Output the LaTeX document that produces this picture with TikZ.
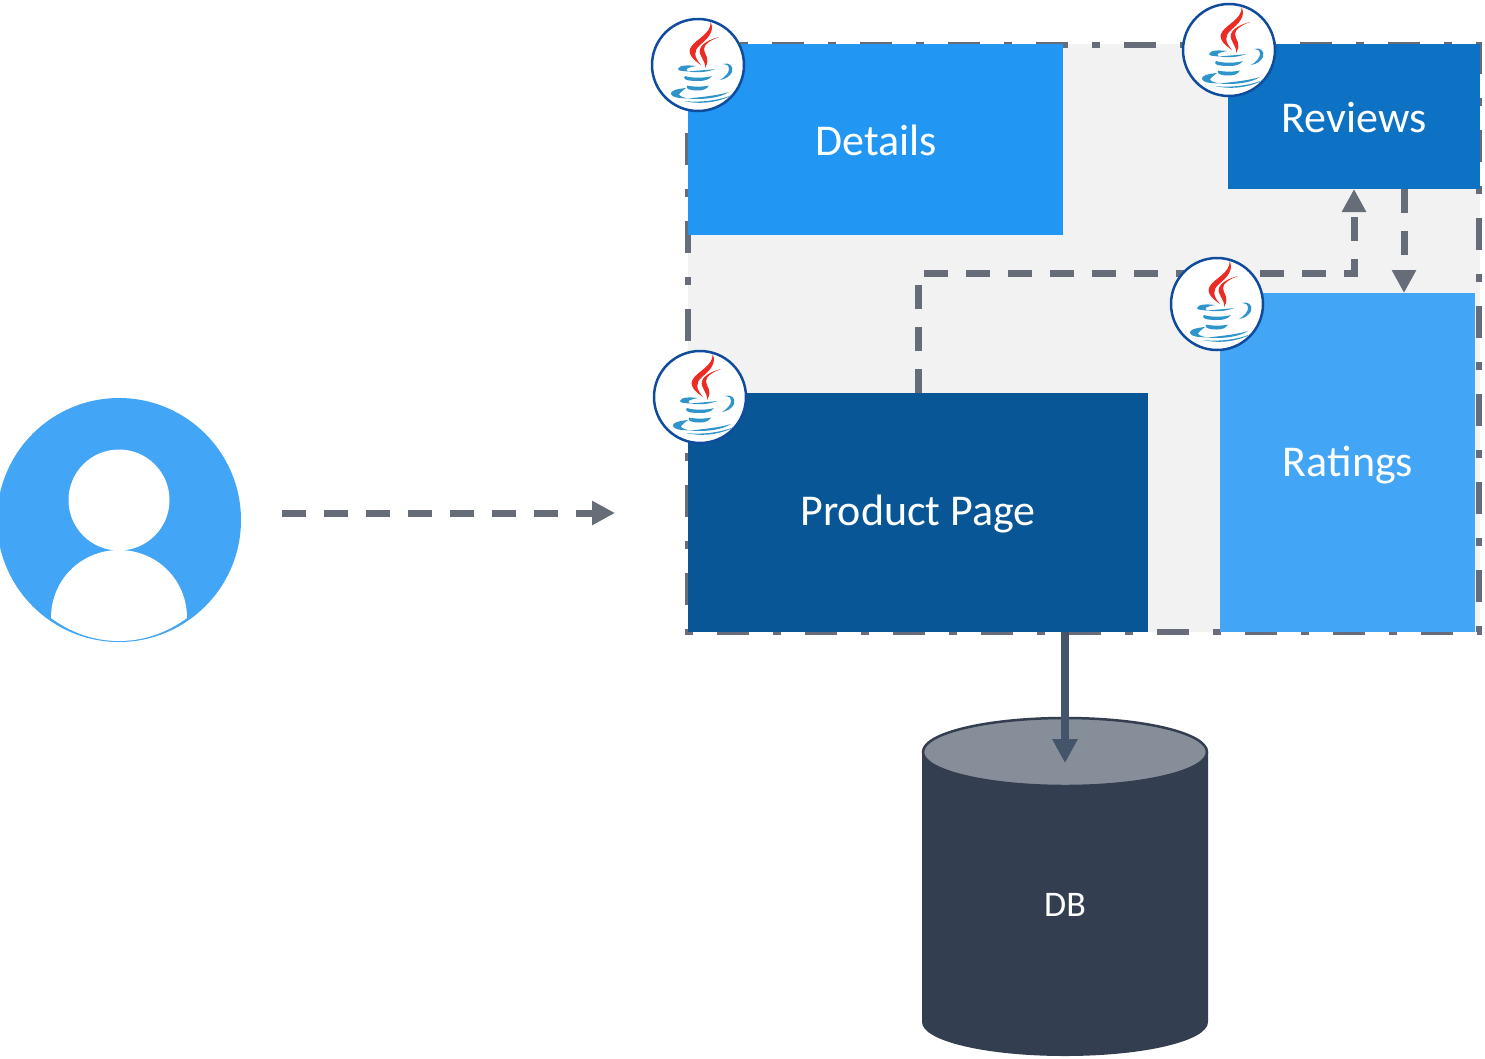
\documentclass[tikz,border=0pt]{standalone}
\usepackage{fontspec}
\setmainfont{Carlito}
\usetikzlibrary{arrows.meta,shapes.geometric}
\definecolor{linegray}{HTML}{666D78}
\definecolor{dbarrow}{HTML}{44546A}
\definecolor{dbbody}{HTML}{333F50}
\definecolor{dbtop}{HTML}{868E99}
\definecolor{panel}{HTML}{F2F2F2}
\definecolor{cDetails}{HTML}{2196F3}
\definecolor{cReviews}{HTML}{0D72C4}
\definecolor{cRatings}{HTML}{42A5F5}
\definecolor{cProduct}{HTML}{085695}
\definecolor{javared}{HTML}{ED2B24}
\definecolor{javablue}{HTML}{2E94C9}
\definecolor{javaring}{HTML}{0F4C9E}
\tikzset{
  svcbox/.style={rectangle,inner sep=0pt,outer sep=0pt,text=white,font=\fontsize{44}{48}\selectfont},
  javacirc/.style={circle,draw=javaring,line width=2.5pt,fill=white,minimum size=92pt,inner sep=0pt,outer sep=0pt},
  flowline/.style={draw=linegray,line width=7pt,dash pattern=on 24pt off 18pt,
    -{Triangle[length=23pt,width=23pt,fill=linegray]}},
  pics/javalogo/.style={code={
    \fill[javared] (12.7,-43) .. controls (17,-33) and (9,-26) .. (2,-20) .. controls (-5,-14) and (-4,-8) .. (3,0)
       .. controls (-6,-6) and (-11,-12) .. (-7,-18) .. controls (-2,-26) and (13,-31) .. (12.7,-43) -- cycle;
    \fill[javared] (21,-28) .. controls (13,-25) and (6,-21) .. (6,-16) .. controls (6,-10) and (13,-7) .. (7,3)
       .. controls (8,-5) and (0,-9) .. (2,-16) .. controls (4,-22) and (13,-26) .. (21,-28) -- cycle;
    \fill[javablue] (-2,1) .. controls (-10,0) and (-19,0) .. (-20,4) .. controls (-20,6) and (-15,6) .. (-10,6.5)
       .. controls (-14,4) and (-10,2.5) .. (-2,1) -- cycle;
    \fill[javablue] (-10,6.5) .. controls (0,8) and (10,7) .. (17,4) .. controls (10,5) and (0,5.5) .. (-10,6.5) -- cycle;
    \fill[javablue] (25,-1) .. controls (31,-3) and (36,1) .. (34,7) .. controls (32,11) and (28,14) .. (22,15)
       .. controls (27,12) and (31,8) .. (31,4) .. controls (31,0) and (28,-1) .. (25,-1) -- cycle;
    \fill[javablue] (-13,11) .. controls (-16,14) and (-12,16) .. (0,16) .. controls (6,16) and (11,15) .. (14,11)
       .. controls (8,13) and (-6,13.5) .. (-13,11) -- cycle;
    \fill[javablue] (-11,20.5) .. controls (-13,24) and (-8,25.5) .. (0,25.5) .. controls (5,25.5) and (9,24) .. (11,20.5)
       .. controls (5,22) and (-5,22) .. (-11,20.5) -- cycle;
    \fill[javablue] (-12,23) .. controls (-22,24) and (-28,26) .. (-27,29) .. controls (-26,33) and (-18,33) .. (-10,33.5)
       .. controls (-17,32) and (-21,30) .. (-18,28) .. controls (-16,26) and (-14,24.5) .. (-12,23) -- cycle;
    \fill[javablue] (-10,33.5) .. controls (5,35) and (22,33) .. (31,27) .. controls (22,30) and (5,32) .. (-10,33.5) -- cycle;
    \fill[javablue] (-14,36) .. controls (3,40) and (22,37) .. (34,30) .. controls (22,35) and (3,38) .. (-14,36) -- cycle;
  }}
}
\begin{document}
\begin{tikzpicture}[x=1pt,y=-1pt]
\useasboundingbox (0,0) rectangle (1485,1058);
% user
\begin{scope}
  \clip (0,0) rectangle (1485,1058);
  \node[circle,fill=cRatings,minimum size=244pt,inner sep=0pt,outer sep=0pt] (user) at (119,520) {};
  \fill[white] (51,618) .. controls (51,579) and (82,550) .. (119,550) .. controls (156,550) and (187,579) .. (187,618)
     .. controls (165,634) and (142,641) .. (119,641) .. controls (96,641) and (73,634) .. (51,618) -- cycle;
  \node[circle,fill=white,minimum size=101pt,inner sep=0pt,outer sep=0pt] (userhead) at (119,500) {};
\end{scope}
% panel
\node[rectangle,fill=panel,inner sep=0pt,outer sep=0pt,minimum width=792pt,minimum height=588pt] (panel) at (1084,338) {};
\draw[linegray,line width=6pt,dash pattern=on 32pt off 24pt on 8pt off 24pt] (688,45) rectangle (1479,632);
% services
\node[svcbox,fill=cDetails,minimum width=375pt,minimum height=191pt] (details) at (875.5,139.5) {};
\node[svcbox,fill=cReviews,minimum width=252pt,minimum height=145pt] (reviews) at (1354,116.5) {};
\node[svcbox,fill=cRatings,minimum width=255pt,minimum height=339pt] (ratings) at (1347.5,462.5) {};
\node[svcbox,fill=cProduct,minimum width=460pt,minimum height=239pt] (product) at (918,512.5) {};
\node[text=white,font=\fontsize{44}{48}\selectfont] (tdetails) at (876,140) {Details};
\node[text=white,font=\fontsize{44}{48}\selectfont] (treviews) at (1354,118) {Reviews};
\node[text=white,font=\fontsize{44}{48}\selectfont] (tratings) at (1348,465) {Ratings};
\node[text=white,font=\fontsize{44}{48}\selectfont] (tproduct) at (918,514) {Product Page};
% database
\fill[dbbody] (922,752) -- (922,1022) .. controls (922,1041) and (986,1056) .. (1065,1056) .. controls (1144,1056) and (1208,1041) .. (1208,1022) -- (1208,752) -- cycle;
\node[ellipse,draw=dbbody,line width=2.5pt,fill=dbtop,minimum width=284pt,minimum height=68pt,inner sep=0pt,outer sep=0pt] (dbtopface) at (1065,752) {};
\node[text=white,font=\fontsize{36}{40}\selectfont] (db) at (1065,905) {DB};
% connectors
\coordinate (ustart) at (282,513);
\coordinate (uend) at (615,513);
\draw[flowline] (ustart) -- (uend);
\coordinate (revin) at ([xshift=0pt]reviews.south);
\coordinate (corner) at (revin |- 0,273);
\draw[flowline] (product.north) |- (corner) -- (revin);
\coordinate (revout) at ([xshift=50pt]reviews.south);
\coordinate (ratin) at (revout |- ratings.north);
\draw[flowline] (revout) -- (ratin);
\coordinate (pout) at ([xshift=147pt]product.south);
\coordinate (dbin) at (pout |- 0,763);
\draw[draw=dbarrow,line width=8pt,-{Triangle[length=24pt,width=24pt,fill=dbarrow]}] (pout) -- (dbin);
% java badges
\node[javacirc] (j1) at (698,65) {};
\node[javacirc] (j2) at (1229,50) {};
\node[javacirc] (j3) at (1217,304) {};
\node[javacirc] (j4) at (700,397) {};
\pic at (j1) {javalogo};
\pic at (j2) {javalogo};
\pic at (j3) {javalogo};
\pic at (j4) {javalogo};
\end{tikzpicture}
\end{document}
